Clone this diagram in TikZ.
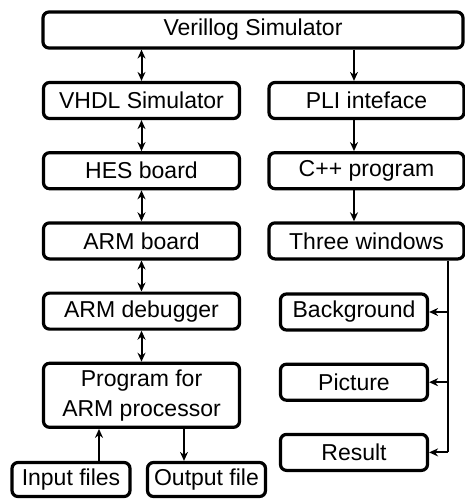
\documentclass[tikz,border=0pt]{standalone}
\usepackage{fontspec}
\setmainfont{Liberation Sans}
\usepackage{tikz}
\usetikzlibrary{arrows.meta, positioning}

\begin{document}
\begin{tikzpicture}[
  x=1pt, y=-1pt,
  block/.style={draw, line width=3.2pt, rounded corners=6pt, minimum height=36pt, align=center,
    inner sep=0pt, font=\fontsize{23}{30}\selectfont},
  leftbox/.style={block, minimum width=196pt},
  rightbox/.style={block, minimum width=195pt},
  winbox/.style={block, minimum width=147pt},
  filebox/.style={block, minimum width=118pt, minimum height=34pt},
  oneway/.style={-{Stealth[length=9pt, width=8pt]}, line width=2pt},
  twoway/.style={{Stealth[length=9pt, width=8pt]}-{Stealth[length=9pt, width=8pt]}, line width=2pt},
  busline/.style={line width=1.2pt},
  node distance=31pt
]
\useasboundingbox (0,0) rectangle (465,501);
% top of the chain
\node[block, minimum width=420pt] (Veri) at (253,30) {Verillog Simulator};
% left column
\node[leftbox] (VHDL) at (141.5,100.5) {VHDL Simulator};
\node[leftbox, below=of VHDL] (HES) {HES board};
\node[leftbox, below=of HES] (ARMb) {ARM board};
\node[leftbox, below=of ARMb] (ARMd) {ARM debugger};
\node[leftbox, below=of ARMd, minimum height=64pt] (Prog) {Program for\\ARM processor};
\node[filebox] (Inp) at (71,479.5) {Input files};
\node[filebox] (Outp) at (206.5,479.5) {Output file};
% right column
\node[rightbox] (PLI) at (366.5,100.5) {PLI inteface};
\node[rightbox, below=of PLI] (Cpp) {C++ program};
\node[rightbox, below=of Cpp] (Three) {Three windows};
\node[winbox] (Back) at (354,312) {Background};
\node[winbox, below=of Back] (Pict) {Picture};
\node[winbox, below=of Pict] (Res) {Result};
\coordinate (rx) at (354,0);
\coordinate (bus) at (448,0);
% connectors, left side
\draw[twoway] (Veri.south -| VHDL) -- (VHDL.north);
\draw[twoway] (VHDL.south) -- (HES.north);
\draw[twoway] (HES.south) -- (ARMb.north);
\draw[twoway] (ARMb.south) -- (ARMd.north);
\draw[twoway] (ARMd.south) -- (Prog.north);
\draw[oneway] (Inp.north -| 99,0) -- (Prog.south -| 99,0);
\draw[oneway] (Prog.south -| 184,0) -- (Outp.north -| 184,0);
% connectors, right side
\draw[oneway] (Veri.south -| rx) -- (PLI.north -| rx);
\draw[oneway] (PLI.south -| rx) -- (Cpp.north -| rx);
\draw[oneway] (Cpp.south -| rx) -- (Three.north -| rx);
\draw[busline] (Three.south -| bus) -- (Res.east -| bus);
\draw[oneway] (Back.east -| bus) -- (Back.east);
\draw[oneway] (Pict.east -| bus) -- (Pict.east);
\draw[oneway] (Res.east -| bus) -- (Res.east);
\end{tikzpicture}
\end{document}
